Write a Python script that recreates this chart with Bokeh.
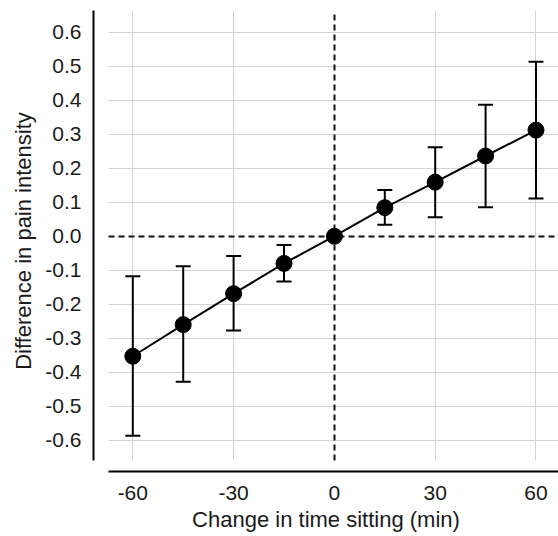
from bokeh.plotting import figure
from bokeh.models import Range1d, FixedTicker, Grid, Whisker, ColumnDataSource, TeeHead
from bokeh.embed import file_html
from bokeh.resources import INLINE

# ---- data ----
change_min = [-60, -45, -30, -15, 0, 15, 30, 45, 60]
diff_pain = [-0.353, -0.260, -0.169, -0.080, 0.0, 0.084, 0.159, 0.236, 0.312]
ci_lower = [-0.587, -0.428, -0.277, -0.133, 0.0, 0.034, 0.056, 0.085, 0.111]
ci_upper = [-0.118, -0.088, -0.058, -0.026, 0.0, 0.136, 0.262, 0.387, 0.513]

x_ticks = [-60, -30, 0, 30, 60]
x_tick_labels = ["-60", "-30", "0", "30", "60"]
y_ticks = [-0.6, -0.5, -0.4, -0.3, -0.2, -0.1, 0.0, 0.1, 0.2, 0.3, 0.4, 0.5, 0.6]
y_tick_labels = ["-0.6", "-0.5", "-0.4", "-0.3", "-0.2", "-0.1", "0.0",
                 "0.1", "0.2", "0.3", "0.4", "0.5", "0.6"]
ref_lines = [0]

FONT = "Liberation Sans"
TXT = "#1a1a1a"

x_lo, x_hi = -71.7, 66.7
y_lo, y_hi = -0.692, 0.664
x_b = (-67.2, 66.7)
y_b = (-0.66, 0.664)

p = figure(width=558, height=536, output_backend="svg", toolbar_location=None,
           x_range=Range1d(x_lo, x_hi), y_range=Range1d(y_lo, y_hi),
           min_border_left=93, min_border_right=0, min_border_top=10,
           min_border_bottom=65)
p.outline_line_color = None
p.background_fill_color = "white"

# grids
p.xgrid.ticker = FixedTicker(ticks=[t for t in x_ticks if t not in ref_lines])
p.ygrid.ticker = FixedTicker(ticks=[t for t in y_ticks if t not in ref_lines])
for g in (p.xgrid[0], p.ygrid[0]):
    g.grid_line_color = "#d3d3d3"
    g.grid_line_width = 1
p.xgrid[0].cross_bounds = y_b
p.ygrid[0].cross_bounds = x_b

gx0 = Grid(dimension=0, ticker=FixedTicker(ticks=ref_lines), grid_line_color="#111111",
           grid_line_width=2, grid_line_dash="6 4", cross_bounds=y_b)
gy0 = Grid(dimension=1, ticker=FixedTicker(ticks=ref_lines), grid_line_color="#111111",
           grid_line_width=2, grid_line_dash="6 4", cross_bounds=x_b)
p.add_layout(gx0)
p.add_layout(gy0)

# axes
xa = p.xaxis[0]
ya = p.yaxis[0]
xa.ticker = FixedTicker(ticks=x_ticks)
ya.ticker = FixedTicker(ticks=y_ticks)
xa.major_label_overrides = {t: l for t, l in zip(x_ticks, x_tick_labels)}
ya.major_label_overrides = {t: l for t, l in zip(y_ticks, y_tick_labels)}
xa.bounds = x_b
ya.bounds = y_b
for a in (xa, ya):
    a.axis_line_color = "black"
    a.axis_line_width = 2
    a.major_tick_out = 0
    a.major_tick_in = 0
    a.minor_tick_out = 0
    a.minor_tick_in = 0
    a.major_label_text_font = FONT
    a.major_label_text_font_size = "21px"
    a.major_label_text_color = TXT
    a.axis_label_text_font = FONT
    a.axis_label_text_font_size = "22px"
    a.axis_label_text_font_style = "normal"
    a.axis_label_text_color = TXT
xa.axis_label = "Change in time sitting (min)"
ya.axis_label = "Difference in pain intensity"
xa.major_label_standoff = 14
xa.axis_label_standoff = 4
ya.major_label_standoff = 12
ya.axis_label_standoff = 6

src = ColumnDataSource(dict(x=change_min, y=diff_pain, lo=ci_lower, hi=ci_upper))

wh = Whisker(base="x", lower="lo", upper="hi", source=src, line_color="black",
             line_width=2, level="underlay",
             upper_head=TeeHead(size=15, line_width=2, line_color="black"),
             lower_head=TeeHead(size=15, line_width=2, line_color="black"))
p.add_layout(wh)

p.line("x", "y", source=src, line_color="black", line_width=2)
p.scatter("x", "y", source=src, size=16, fill_color="black", line_color="black")

open("out.html", "w").write(file_html(p, INLINE))
